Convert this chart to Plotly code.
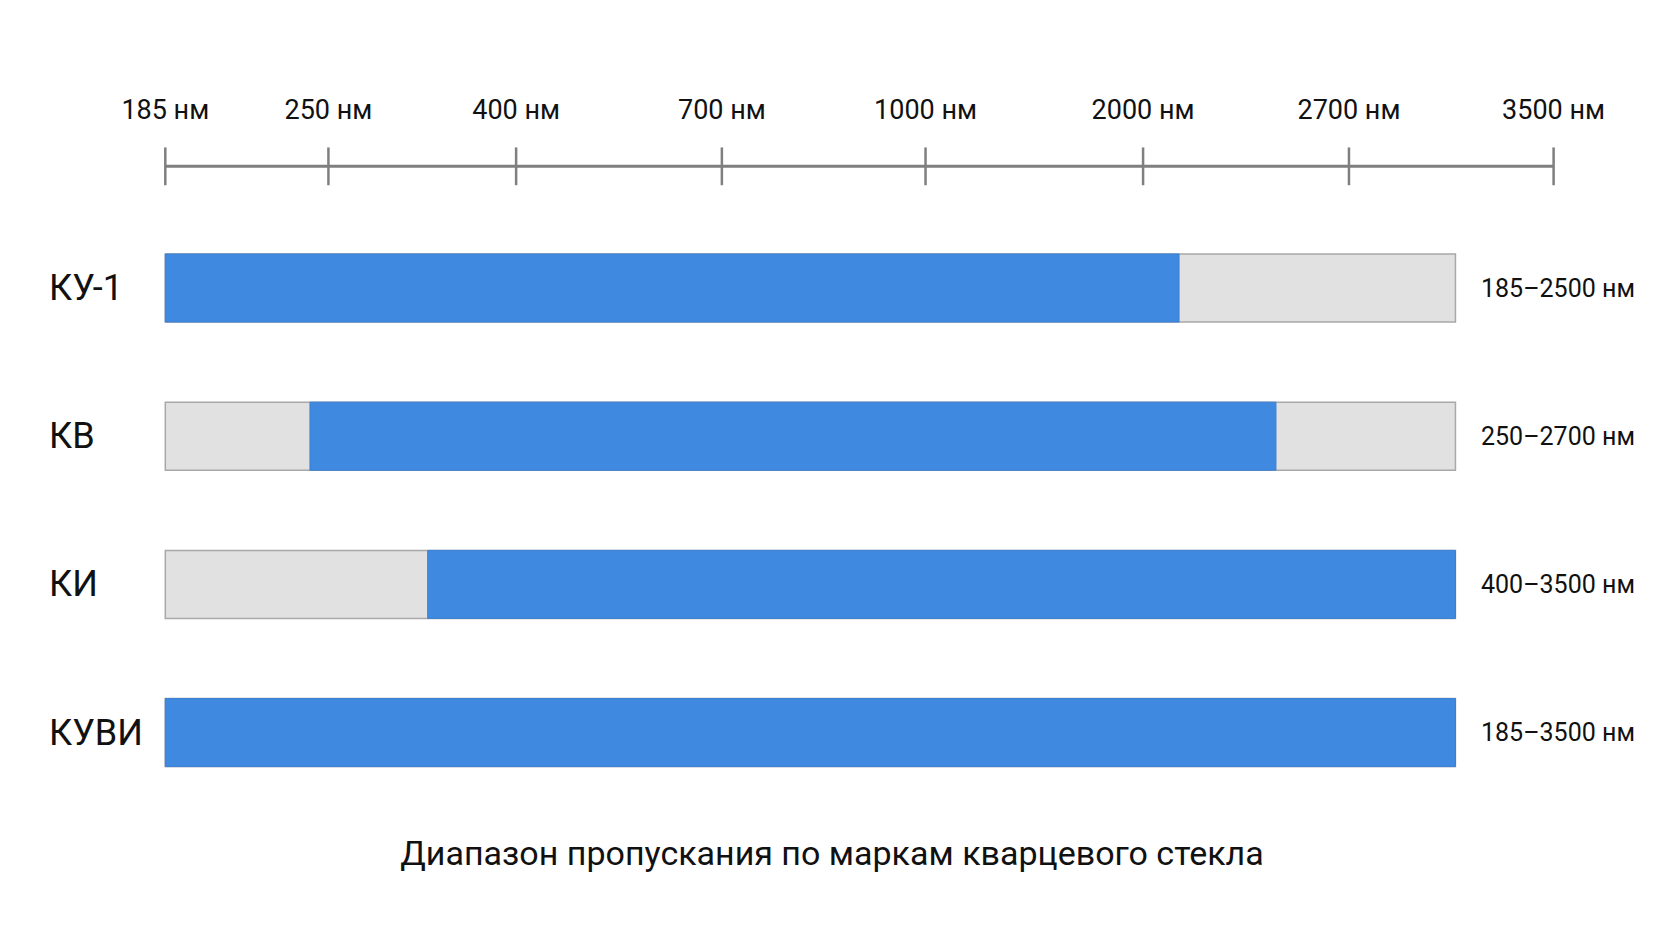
import plotly.graph_objects as go

# ---- data ----
grades = ["КУ-1", "КВ", "КИ", "КУВИ"]
range_labels = ["185–2500 нм", "250–2700 нм", "400–3500 нм", "185–3500 нм"]
tick_labels = ["185 нм", "250 нм", "400 нм", "700 нм", "1000 нм", "2000 нм", "2700 нм", "3500 нм"]
# positions of the ruler ticks along the scale (0 = first tick, 100 = last tick)
tick_pos = [0, 11.75, 25.27, 40.09, 54.76, 70.43, 85.26, 100]
# transmission band of each grade, in the same scale units
band_start = [0, 10.42, 18.9, 0]
band_end = [73.02, 80.0, 92.93, 92.93]
scale_end = 92.93  # end of the grey background track

FONT = "Roboto, sans-serif"
BLUE = "#3f8ae0"
GREY = "#e1e1e1"
RULER = "#7f7f7f"
TXT = "#111111"

W, H = 1672, 941
ML, MR, MT, MB = 47, 20, 135, 151
ypos = list(range(len(grades)))
ruler_y = -0.821

fig = go.Figure()

fig.add_trace(go.Bar(
    orientation="h", y=ypos, x=[scale_end] * len(grades), base=[0] * len(grades),
    width=0.459, marker=dict(color=GREY, line=dict(color="#a8a8a8", width=1.5)),
    hoverinfo="skip", showlegend=False))

fig.add_trace(go.Bar(
    orientation="h", y=ypos,
    x=[e - s for s, e in zip(band_start, band_end)], base=band_start,
    width=0.459, marker=dict(color=BLUE, line=dict(color="#3a7fd2", width=1)),
    showlegend=False))

fig.add_trace(go.Scatter(
    x=tick_pos, y=[ruler_y] * len(tick_pos), mode="lines+markers",
    line=dict(color=RULER, width=3),
    marker=dict(symbol="line-ns", size=27, line=dict(color=RULER, width=2.5)),
    cliponaxis=False, hoverinfo="skip", showlegend=False))

annotations = []
for i, g in enumerate(grades):
    annotations.append(dict(
        x=0, xref="paper", y=i, yref="y", text=g, showarrow=False,
        xanchor="left", yanchor="middle",
        font=dict(family=FONT, size=36, color=TXT)))
    annotations.append(dict(
        x=scale_end, xref="x", y=i, yref="y", text=range_labels[i], showarrow=False,
        xanchor="left", yanchor="middle", xshift=24,
        font=dict(family=FONT, size=25, color=TXT)))

px_per_unit = (1553.6 - 165.3) / 100
x0 = (ML - 165.3) / px_per_unit
x1 = (W - MR - 165.3) / px_per_unit
px_per_row = 148.2
y_top = (MT - 288) / px_per_row
y_bot = (H - MB - 288) / px_per_row

fig.update_layout(
    width=W, height=H,
    margin=dict(l=ML, r=MR, t=MT, b=MB),
    paper_bgcolor="white", plot_bgcolor="white",
    barmode="overlay",
    title=dict(text="Диапазон пропускания по маркам кварцевого стекла",
               x=832 / W, xanchor="center", y=1 - 853 / H, yanchor="middle",
               font=dict(family=FONT, size=34, color=TXT)),
    xaxis=dict(range=[x0, x1], side="top", tickvals=tick_pos, ticktext=tick_labels,
               showgrid=False, zeroline=False, showline=False, ticks="",
               ticklabelstandoff=10,
               tickfont=dict(family=FONT, size=27, color=TXT)),
    yaxis=dict(range=[y_bot, y_top], showgrid=False, zeroline=False,
               showticklabels=False, showline=False, ticks=""),
    annotations=annotations,
)

fig.write_html("out.html")
